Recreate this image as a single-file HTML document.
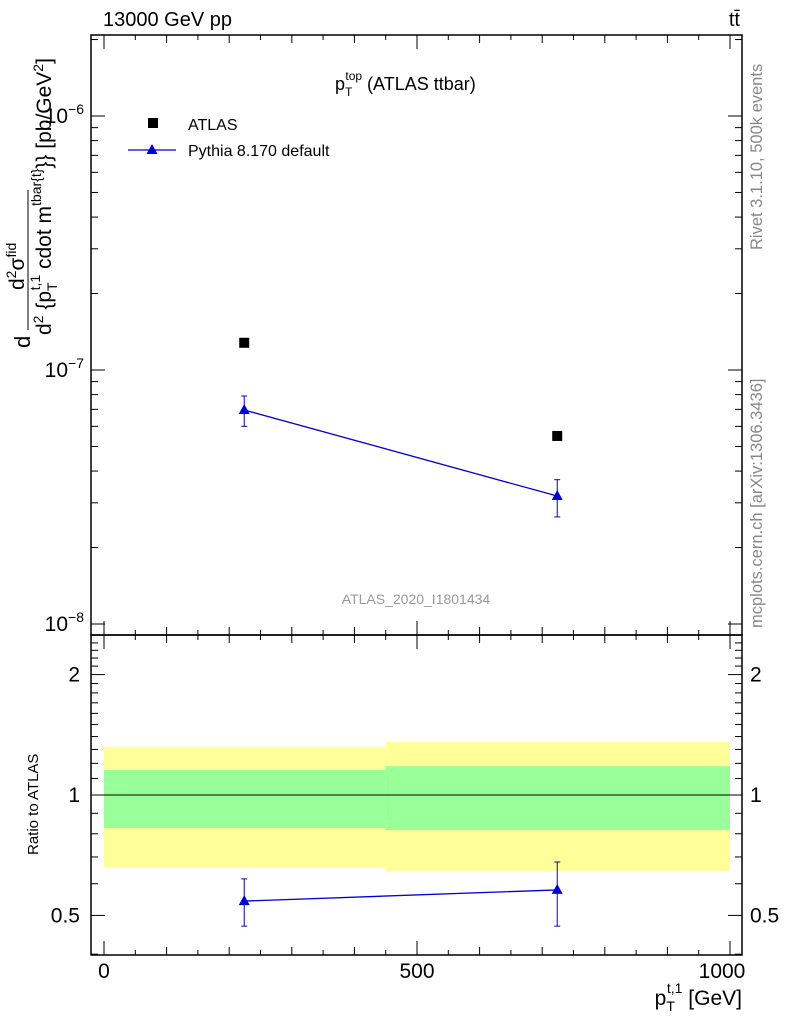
<!DOCTYPE html>
<html><head><meta charset="utf-8"><style>
body{margin:0;background:#fff;}
svg{font-family:"Liberation Sans",sans-serif;}
</style></head><body>
<svg id="c" width="786" height="1024" xmlns="http://www.w3.org/2000/svg">
<g id="g"></g>
</svg>
<script>
const binEdges=[0,450,1000];
const xCenters=[224,724];
const atlasVals=[1.28e-7,5.5e-8];
const mcVals=[6.96e-8,3.19e-8];
const mcUp=[7.9e-8,3.7e-8];
const mcDn=[6.0e-8,2.64e-8];
const ratioVals=[0.543,0.579];
const ratioUp=[0.617,0.68];
const ratioDn=[0.47,0.47];
const bandYelHi=[1.32,1.357];
const bandYelLo=[0.66,0.646];
const bandGrnHi=[1.155,1.18];
const bandGrnLo=[0.827,0.818];
const xTickLabels=[0,500,1000];
const ratioTickLabels=[0.5,1,2];

const NS="http://www.w3.org/2000/svg";
const g=document.getElementById('g');
function el(t,a,txt){const e=document.createElementNS(NS,t);for(const k in a)e.setAttribute(k,a[k]);if(txt!==undefined)e.textContent=txt;g.appendChild(e);return e;}
const L=91,R=742,T=35,M=635,B=955;
const X=v=>104+v*0.626;
const Y=v=>370-(Math.log10(v)+7)*254;
const YR=v=>795-Math.log10(v)*400;

for(let i=0;i<2;i++){
 let r=el('rect',{x:X(binEdges[i]),y:YR(bandYelHi[i]),width:X(binEdges[i+1])-X(binEdges[i]),height:YR(bandYelLo[i])-YR(bandYelHi[i]),fill:'#ffff99'});
 
 r=el('rect',{x:X(binEdges[i]),y:YR(bandGrnHi[i]),width:X(binEdges[i+1])-X(binEdges[i]),height:YR(bandGrnLo[i])-YR(bandGrnHi[i]),fill:'#99ff99'});
 
}
el('line',{x1:L,x2:R,y1:YR(1),y2:YR(1),stroke:'#000','stroke-width':1});

let f=el('rect',{x:L,y:T,width:R-L,height:M-T,fill:'none',stroke:'#000','stroke-width':1.5});

f=el('rect',{x:L,y:M,width:R-L,height:B-M,fill:'none',stroke:'#000','stroke-width':1.5});


for(let v=0;v<=1000;v+=50){
 const len=v%500==0?14:(v%100==0?8:5);
 for(const [y0,d] of [[M,-1],[B,-1],[T,1]]){el('line',{x1:X(v),x2:X(v),y1:y0,y2:y0+d*len,stroke:'#000'});}
 el('line',{x1:X(v),x2:X(v),y1:M,y2:M+len,stroke:'#000'});
}
xTickLabels.forEach(v=>{const t=el('text',{x:X(v)-(v==1000?8:0),y:978,'text-anchor':'middle','font-size':21},v);});

for(let d=-9;d<=-6;d++)for(let m=1;m<10;m++){
 const v=m*Math.pow(10,d);const y=Y(v);if(y<T||y>M)continue;
 const len=m==1?14:7;
 el('line',{x1:L,x2:L+len,y1:y,y2:y,stroke:'#000'});el('line',{x1:R,x2:R-len,y1:y,y2:y,stroke:'#000'});
}
[[1e-6,'−6'],[1e-7,'−7'],[1e-8,'−8']].forEach(([v,e])=>{const t=el('text',{x:84,y:Y(v)+7,'text-anchor':'end','font-size':21});t.innerHTML='10<tspan dy="-9" font-size="14">'+e+'</tspan>';});

for(let v=0.4;v<=2.5;v+=0.1){const vv=Math.round(v*10)/10;const y=YR(vv);if(y<M||y>B)continue;
 const len=(vv==0.5||vv==1||vv==2)?14:7;
 el('line',{x1:L,x2:L+len,y1:y,y2:y,stroke:'#000'});el('line',{x1:R,x2:R-len,y1:y,y2:y,stroke:'#000'});}
ratioTickLabels.forEach(v=>{for(const [x,a] of [[80,'end'],[750,'start']]){const t=el('text',{x:x,y:YR(v)+7,'text-anchor':a,'font-size':21},v);}});

atlasVals.forEach((v,i)=>{const r=el('rect',{x:X(xCenters[i])-5,y:Y(v)-5,width:10,height:10,fill:'#000'});});
function tri(x,y){const p=el('polygon',{points:`${x},${y-6} ${x-5.5},${y+4} ${x+5.5},${y+4}`,fill:'#0000dd'});return p;}
let pl=el('polyline',{points:xCenters.map((x,i)=>X(x)+','+Y(mcVals[i])).join(' '),fill:'none',stroke:'#0000dd','stroke-width':1.3});

mcVals.forEach((v,i)=>{const x=X(xCenters[i]);el('line',{x1:x,x2:x,y1:Y(mcUp[i]),y2:Y(mcDn[i]),stroke:'#0000dd'});
 el('line',{x1:x-3,x2:x+3,y1:Y(mcUp[i]),y2:Y(mcUp[i]),stroke:'#0000dd'});el('line',{x1:x-3,x2:x+3,y1:Y(mcDn[i]),y2:Y(mcDn[i]),stroke:'#0000dd'});
 const p=tri(x,Y(v));});
pl=el('polyline',{points:xCenters.map((x,i)=>X(x)+','+YR(ratioVals[i])).join(' '),fill:'none',stroke:'#0000dd','stroke-width':1.3});

ratioVals.forEach((v,i)=>{const x=X(xCenters[i]);el('line',{x1:x,x2:x,y1:YR(ratioUp[i]),y2:YR(ratioDn[i]),stroke:'#0000dd'});
 el('line',{x1:x-3,x2:x+3,y1:YR(ratioUp[i]),y2:YR(ratioUp[i]),stroke:'#0000dd'});el('line',{x1:x-3,x2:x+3,y1:YR(ratioDn[i]),y2:YR(ratioDn[i]),stroke:'#0000dd'});
 const p=tri(x,YR(v));});
</script>
<svg width="786" height="1024" style="position:absolute;left:0;top:0" xmlns="http://www.w3.org/2000/svg">
<text x="103" y="26" font-size="20" font-family="Liberation Sans">13000 GeV pp</text>
<text x="740" y="26" font-size="20" font-family="Liberation Sans" text-anchor="end">tt̄</text>
<text x="335" y="90" font-size="18" font-family="Liberation Sans">p<tspan dy="6" font-size="12">T</tspan><tspan dx="-7" dy="-16" font-size="12">top</tspan><tspan dy="10"> (ATLAS ttbar)</tspan></text>
<rect x="148" y="118" width="10" height="10" fill="#000"/>
<text x="188" y="130" font-size="16" font-family="Liberation Sans">ATLAS</text>
<line x1="128" x2="176" y1="150" y2="150" stroke="#0000dd" stroke-width="1.3"/>
<polygon points="152,144 146.5,154 157.5,154" fill="#0000dd"/>
<text x="188" y="156" font-size="16" font-family="Liberation Sans">Pythia 8.170 default</text>
<text x="416" y="604" font-size="14" font-family="Liberation Sans" fill="#999" text-anchor="middle">ATLAS_2020_I1801434</text>
<text transform="translate(762,250) rotate(-90)" font-size="16.5" font-family="Liberation Sans" fill="#888">Rivet 3.1.10,  500k events</text>
<text transform="translate(762,628) rotate(-90)" font-size="16.5" font-family="Liberation Sans" fill="#888">mcplots.cern.ch [arXiv:1306.3436]</text>
<g font-family="Liberation Sans">
<text transform="translate(24,290) rotate(-90)" font-size="21">d<tspan dy="-8" font-size="14">2</tspan><tspan dy="8">σ</tspan><tspan dy="-8" font-size="14">fid</tspan></text>
<line x1="28" x2="28" y1="190" y2="330" stroke="#000" stroke-width="1"/>
<text transform="translate(30,348) rotate(-90)" font-size="22">d</text>
<text transform="translate(51,335) rotate(-90)" font-size="21">d<tspan dy="-8" font-size="14">2</tspan><tspan dy="8"> {p</tspan><tspan dy="6" font-size="14">T</tspan><tspan dx="-8" dy="-17" font-size="14">t,1</tspan><tspan dy="11"> cdot m</tspan><tspan dy="-10" font-size="14">tbar{t}</tspan><tspan dy="10">}} [pb/GeV</tspan><tspan dy="-8" font-size="14">2</tspan><tspan dy="8">]</tspan></text>
</g>
<text transform="translate(38,855) rotate(-90)" font-size="15" font-family="Liberation Sans">Ratio to ATLAS</text>
<text x="742" y="1005" font-size="21" font-family="Liberation Sans" text-anchor="end">p<tspan dy="6" font-size="14">T</tspan><tspan dx="-8" dy="-18" font-size="14">t,1</tspan><tspan dy="12"> [GeV]</tspan></text>
</svg>
</body></html>
